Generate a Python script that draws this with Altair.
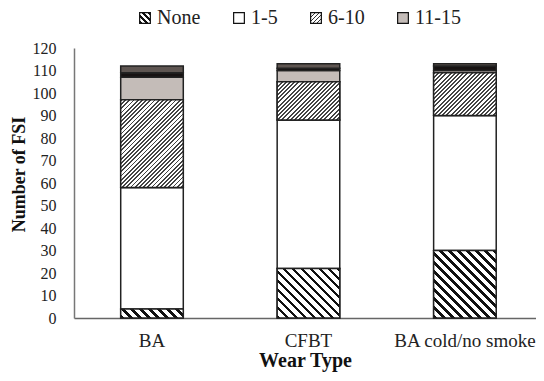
import altair as alt
import pandas as pd

# ---- data ----
wear = ["BA", "CFBT", "BA cold/no smoke"]
series = ["None", "1-5", "6-10", "11-15", "16-20", "21+"]
none_v = [4, 22, 30]
v1_5 = [54, 66, 60]
v6_10 = [39, 17, 19]
v11_15 = [10, 5, 1]
v16_20 = [2, 1, 2]
v21p = [3, 2, 1]
legend_shown = ["None", "1-5", "6-10", "11-15"]
y_ticks = list(range(0, 121, 10))

values = [none_v, v1_5, v6_10, v11_15, v16_20, v21p]
rows = []
for i, w in enumerate(wear):
    base = 0
    for s, vals in zip(series, values):
        v = vals[i]
        rows.append({"Wear": w, "Series": s, "Value": v, "y0": base, "y1": base + v})
        base += v
df = pd.DataFrame(rows)

# ---- layout ----
W, H = 462, 270
YMAX = 120
P_IN, P_OUT = 0.6, 0.2764
step = W / (len(wear) - P_IN + 2 * P_OUT)
bar_w = step * (1 - P_IN)
px_per_unit = H / YMAX

FONT = "Liberation Serif"


def hatch_params(w, h, period, duty, direction):
    s = w + h
    L = (w * w + h * h) / s
    if direction == "back":
        x1, y1, x2, y2 = 0, 1, w / L, 1 - h / L
    else:
        x1, y1, x2, y2 = 0, 0, w / L, h / L
    n = s / period
    offs = []
    i = 0
    while i < n:
        a = i / n
        b = min((i + duty) / n, 1)
        c = min((i + 1) / n, 1)
        offs.append((a, b, c))
        i += 1
    return (x1, y1, x2, y2), offs


def hatch(w, h, period, duty, color, bg, direction):
    (x1, y1, x2, y2), offs = hatch_params(w, h, period, duty, direction)
    stops = []
    for a, b, c in offs:
        stops += [
            alt.GradientStop(offset=a, color=color),
            alt.GradientStop(offset=b, color=color),
            alt.GradientStop(offset=b, color=bg),
            alt.GradientStop(offset=c, color=bg),
        ]
    return alt.LinearGradient(gradient="linear", x1=x1, y1=y1, x2=x2, y2=y2, stops=stops)


def hatch_expr(w, h, period, duty, color, bg, direction):
    (x1, y1, x2, y2), offs = hatch_params(w, h, period, duty, direction)
    st = []
    for a, b, c in offs:
        for o, col in ((a, color), (b, color), (b, bg), (c, bg)):
            st.append("{'offset': %.4f, 'color': '%s'}" % (o, col))
    return alt.ExprRef(
        "{'gradient': 'linear', 'x1': %.4f, 'y1': %.4f, 'x2': %.4f, 'y2': %.4f, 'stops': [%s]}"
        % (x1, y1, x2, y2, ", ".join(st))
    )


SYM = 10.7
fills = [
    hatch_expr(SYM, SYM, 6.0, 0.55, "#111111", "#ffffff", "back"),
    "#ffffff",
    hatch_expr(SYM, SYM, 4.0, 0.35, "#333333", "#ffffff", "fwd"),
    "#c4bcb8",
    "#171212",
    "#5e5551",
]

base = alt.Chart(df).encode(
    x=alt.X(
        "Wear:N",
        sort=wear,
        title="Wear Type",
        scale=alt.Scale(paddingInner=P_IN, paddingOuter=P_OUT, align=0.54),
        axis=alt.Axis(
            labelAngle=0, labelFontSize=19, labelFont=FONT, labelColor="#222",
            labelPadding=13, ticks=False, domainColor="#666", domainWidth=1.5,
            titleFont=FONT, titleFontSize=20, titleFontWeight="bold", titleColor="#111",
            titlePadding=0,
        ),
    ),
    y=alt.Y(
        "y0:Q",
        title="Number of FSI",
        scale=alt.Scale(domain=[0, YMAX], nice=False),
        axis=alt.Axis(
            values=y_ticks, grid=False, ticks=False, labelFontSize=16, labelFont=FONT,
            labelColor="#222", labelPadding=18, domainColor="#777", domainWidth=1.5,
            titleFont=FONT, titleFontSize=18, titleFontWeight="bold", titleColor="#111",
            titleX=-55, titleY=126, titleBaseline="middle",
        ),
    ),
    y2="y1:Q",
)

flat = base.mark_bar(stroke="#222", strokeWidth=1.5).encode(
    fill=alt.Fill(
        "Series:N",
        sort=series,
        scale=alt.Scale(domain=series, range=fills),
        legend=alt.Legend(
            title=None, orient="none", direction="horizontal", legendX=61, legendY=-40,
            values=legend_shown, symbolType="square", symbolSize=115,
            symbolStrokeColor="#111", symbolStrokeWidth=1.2, labelFont=FONT,
            labelFontSize=20, labelColor="#222", labelOffset=2, columnPadding=28,
        ),
    )
)

layers = [flat]
for i, w in enumerate(wear):
    h = none_v[i] * px_per_unit
    g = hatch(bar_w, h, 9.0, 0.42, "#111111", "#ffffff", "back")
    layers.append(
        base.transform_filter(
            (alt.datum.Wear == w) & (alt.datum.Series == "None")
        ).mark_bar(fill=g, stroke="#222", strokeWidth=1.5)
    )
    h2 = v6_10[i] * px_per_unit
    g2 = hatch(bar_w, h2, 4.2, 0.45, "#444444", "#ffffff", "fwd")
    layers.append(
        base.transform_filter(
            (alt.datum.Wear == w) & (alt.datum.Series == "6-10")
        ).mark_bar(fill=g2, stroke="#222", strokeWidth=1.5)
    )

chart = alt.layer(*layers).properties(
    width=W,
    height=H,
    autosize=alt.AutoSizeParams(type="none"),
    padding={"left": 66, "top": 40, "right": 0, "bottom": 55},
).configure_view(stroke=None)

chart.save("out.html", embed_options={"renderer": "svg", "actions": False})
